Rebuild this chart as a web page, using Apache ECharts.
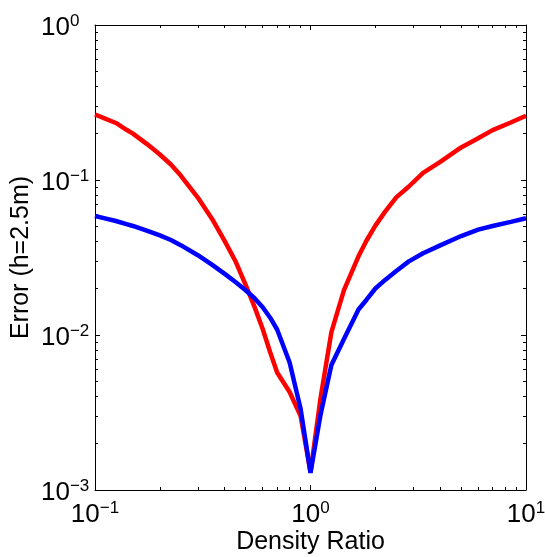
<!DOCTYPE html>
<html>
<head>
<meta charset="utf-8">
<script src="https://cdn.jsdelivr.net/npm/echarts@6/dist/echarts.min.js"></script>
<style>html,body{margin:0;padding:0;background:#fff}#c{width:545px;height:557px}</style>
</head>
<body>
<div id="c"></div>
<script>
// Density ratio samples (x)
var densityRatio = [0.1, 0.11, 0.125, 0.14, 0.15, 0.175, 0.2, 0.225, 0.25, 0.3, 0.35, 0.4, 0.45, 0.5, 0.55, 0.6, 0.65, 0.7, 0.8, 0.9, 1,
  1.11, 1.25, 1.43, 1.67, 1.82, 2, 2.22, 2.5, 2.86, 3.33, 4, 5, 6, 7, 8.5, 10];
// Red series error
var redError = [0.2647, 0.2508, 0.2333, 0.2108, 0.199, 0.1699, 0.146, 0.1259, 0.1068, 0.0771, 0.0559, 0.0403, 0.02967, 0.02103,
  0.01518, 0.01094, 0.00774, 0.00573, 0.00429, 0.0030, 0.001306,
  0.00381, 0.01045, 0.0195, 0.0322, 0.0407, 0.0508, 0.0625, 0.0773, 0.0908, 0.1113, 0.1308, 0.1623, 0.1858, 0.2099, 0.2350, 0.260];
// Blue series error
var blueError = [0.0586, 0.0568, 0.0544, 0.0519, 0.0505, 0.0470, 0.0439, 0.0410, 0.0380, 0.0327, 0.02837, 0.0248, 0.02188, 0.01945,
  0.01727, 0.0151, 0.01293, 0.01085, 0.00665, 0.00333, 0.00129,
  0.0030, 0.0064, 0.00942, 0.0146, 0.01689, 0.01995, 0.02267, 0.0259, 0.02984, 0.0337, 0.03785, 0.0435, 0.0478, 0.0505, 0.0537, 0.0566];
// Minor tick positions
var xMinorTicks = [0.2,0.3,0.4,0.5,0.6,0.7,0.8,0.9,2,3,4,5,6,7,8,9];
var yMinorTicks = [0.002,0.003,0.004,0.005,0.006,0.007,0.008,0.009,
  0.02,0.03,0.04,0.05,0.06,0.07,0.08,0.09,0.2,0.3,0.4,0.5,0.6,0.7,0.8,0.9];

var FONT = 'Liberation Sans, Arial, sans-serif';
function pow10Label(v) {
  var e = Math.round(Math.log10(v));
  var s = e < 0 ? '\u2212' + (-e) : String(e);
  return '{b|10}{s|' + s + '}';
}
var rich = {
  b: {fontSize: 26, fontFamily: FONT, color: '#000', lineHeight: 30},
  s: {fontSize: 17, fontFamily: FONT, color: '#000', verticalAlign: 'top', lineHeight: 17}
};
function mkAxis(pos, minV, maxV, main, minor, extra) {
  var a = {
    type: 'log', logBase: 10, min: minV, max: maxV, position: pos, gridIndex: 0,
    splitLine: {show: false},
    axisLine: {show: !minor, lineStyle: {color: '#000', width: 1}},
    axisTick: {show: true, inside: true, length: minor ? 3 : 5, lineStyle: {color: '#000', width: 1}},
    axisLabel: {show: false},
    minorTick: {show: false}
  };
  if (minor) a.axisTick.customValues = minor;
  if (extra) for (var k in extra) a[k] = extra[k];
  return a;
}
var chart = echarts.init(document.getElementById('c'), null, {renderer: 'canvas'});
chart.setOption({
  animation: false,
  backgroundColor: '#fff',
  grid: {left: 95, right: 19, top: 25, bottom: 67, containLabel: false, outerBoundsMode: 'none'},
  xAxis: [
    mkAxis('bottom', 0.1, 10, true, null, {
      axisLabel: {show: true, margin: 10, formatter: pow10Label, rich: rich},
      name: 'Density Ratio', nameLocation: 'middle', nameGap: 40, nameMoveOverlap: false,
      nameTextStyle: {fontSize: 25, fontFamily: FONT, color: '#000'}
    }),
    mkAxis('top', 0.1, 10, true, null),
    mkAxis('bottom', 0.1, 10, false, xMinorTicks),
    mkAxis('top', 0.1, 10, false, xMinorTicks)
  ],
  yAxis: [
    mkAxis('left', 0.001, 1, true, null, {
      axisLabel: {show: true, margin: 54, align: 'left', padding: [6, 0, 0, 0], formatter: pow10Label, rich: rich},
      name: 'Error (h=2.5m)', nameLocation: 'middle', nameGap: 61, nameMoveOverlap: false,
      nameTextStyle: {fontSize: 25, fontFamily: FONT, color: '#000'}
    }),
    mkAxis('right', 0.001, 1, true, null),
    mkAxis('left', 0.001, 1, false, yMinorTicks),
    mkAxis('right', 0.001, 1, false, yMinorTicks)
  ],
  series: [
    {type: 'line', xAxisIndex: 0, yAxisIndex: 0, symbol: 'none', smooth: false,
     lineStyle: {color: '#ff0000', width: 4.5}, itemStyle: {color: '#ff0000'},
     data: densityRatio.map(function (x, i) { return [x, redError[i]]; })},
    {type: 'line', xAxisIndex: 0, yAxisIndex: 0, symbol: 'none', smooth: false,
     lineStyle: {color: '#0000ff', width: 4.5}, itemStyle: {color: '#0000ff'},
     data: densityRatio.map(function (x, i) { return [x, blueError[i]]; })}
  ]
});
</script>
</body>
</html>
